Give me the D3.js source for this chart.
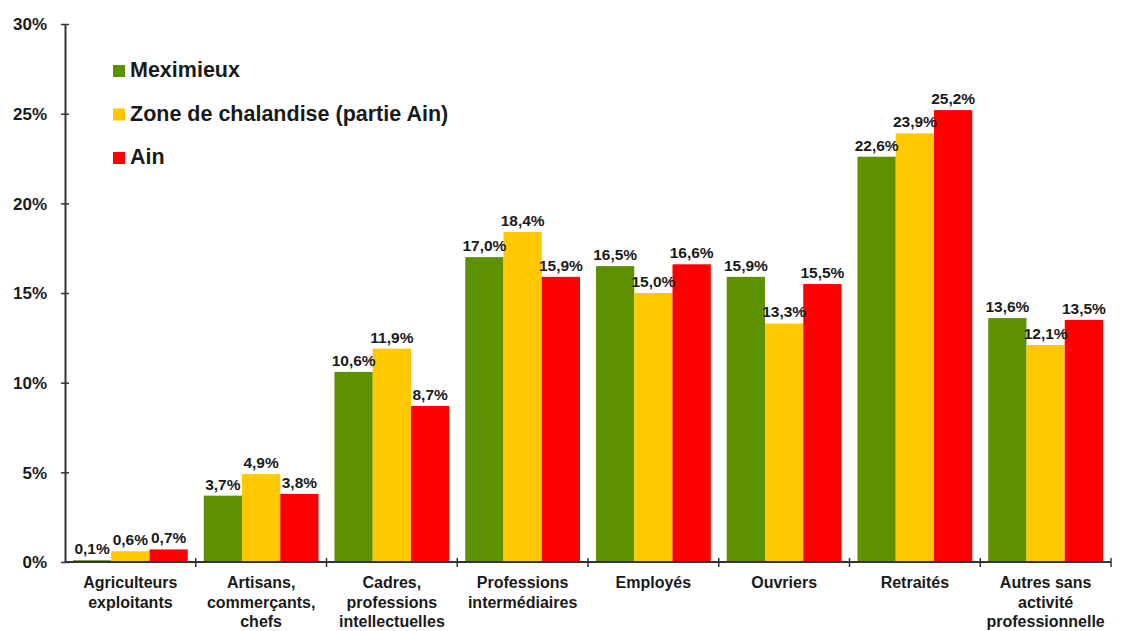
<!DOCTYPE html>
<html><head><meta charset="utf-8">
<script src="https://cdn.jsdelivr.net/npm/d3@7"></script>
<style>body{margin:0;background:#fff}svg{display:block}text{font-family:"Liberation Sans",Arial,sans-serif;font-weight:bold;fill:#1a1a1a}</style>
</head><body>
<svg id="c" width="1121" height="631"></svg>
<script>
const categories = [
  ["Agriculteurs","exploitants"],
  ["Artisans,","commerçants,","chefs"],
  ["Cadres,","professions","intellectuelles"],
  ["Professions","intermédiaires"],
  ["Employés"],
  ["Ouvriers"],
  ["Retraités"],
  ["Autres sans","activité","professionnelle"]
];
const seriesNames = ["Meximieux","Zone de chalandise (partie Ain)","Ain"];
const meximieux = [0.1,3.7,10.6,17.0,16.5,15.9,22.6,13.6];
const zone      = [0.6,4.9,11.9,18.4,15.0,13.3,23.9,12.1];
const ain       = [0.7,3.8,8.7,15.9,16.6,15.5,25.2,13.5];
const yTicks = [0,5,10,15,20,25,30];
const colors = ["#5e9100","#ffc800","#ff0000"];

(function(){
const svg = d3.select("#c");
const pL = 65, pR = 1111, pT = 24, pB = 562;
const idx = d3.range(categories.length);
const x0 = d3.scaleBand().domain(idx).range([pL,pR]).paddingInner(0.122).paddingOuter(0.061);
const x1 = d3.scaleBand().domain(d3.range(3)).range([0,x0.bandwidth()]);
const y = d3.scaleLinear().domain([0,30]).range([pB,pT]);
const series = [meximieux,zone,ain];
const fmt = v => d3.format(".1f")(v).replace(".",",")+"%";

idx.forEach(i=>{
  const g = svg.append("g").attr("transform",`translate(${x0(i)},0)`);
  series.forEach((s,j)=>{
    g.append("rect").attr("x",x1(j)).attr("y",y(s[i])).attr("width",x1.bandwidth()).attr("height",y(0)-y(s[i])).attr("fill",colors[j]);
  });
  series.forEach((s,j)=>{
    g.append("text").attr("x",x1(j)+x1.bandwidth()/2).attr("y",y(s[i])-6).attr("text-anchor","middle").style("font-size","15.5px").text(fmt(s[i]));
  });
});

const yAxis = d3.axisLeft(y).tickValues(yTicks).tickFormat(d=>d+"%").tickSizeInner(4).tickSizeOuter(0);
const ya = svg.append("g").attr("transform",`translate(${pL},0)`).call(yAxis);
ya.select(".domain").attr("stroke","#333").attr("stroke-width",2);
ya.selectAll(".tick line").attr("x2",4).attr("x1",-4).attr("stroke","#333").attr("stroke-width",1.5);
ya.selectAll(".tick text").attr("x",-18).attr("dy","0.35em").style("font-size","17px").style("font-family","Liberation Sans, Arial").style("font-weight","bold").attr("fill","#1a1a1a");

const step = x0.step();
svg.append("line").attr("x1",pL).attr("x2",pR).attr("y1",pB).attr("y2",pB).attr("stroke","#333").attr("stroke-width",2);
idx.forEach(i=>{
  const bx = x0(i)+x0.bandwidth()+x0.paddingInner()*step/2;
  svg.append("line").attr("x1",bx).attr("x2",bx).attr("y1",pB-4).attr("y2",pB+5).attr("stroke","#333").attr("stroke-width",1.5);
});
idx.forEach(i=>{
  const t = svg.append("text").attr("text-anchor","middle").style("font-size","16px");
  categories[i].forEach((ln,k)=>{
    t.append("tspan").attr("x",x0(i)+x0.bandwidth()/2).attr("y",588+k*19.5).text(ln);
  });
});

seriesNames.forEach((n,j)=>{
  const ly = 77 + j*43.5;
  svg.append("rect").attr("x",113).attr("y",ly-12).attr("width",12).attr("height",12).attr("fill",colors[j]);
  svg.append("text").attr("x",130).attr("y",ly).style("font-size","21.5px").text(n);
});
})();
</script>
</body></html>
